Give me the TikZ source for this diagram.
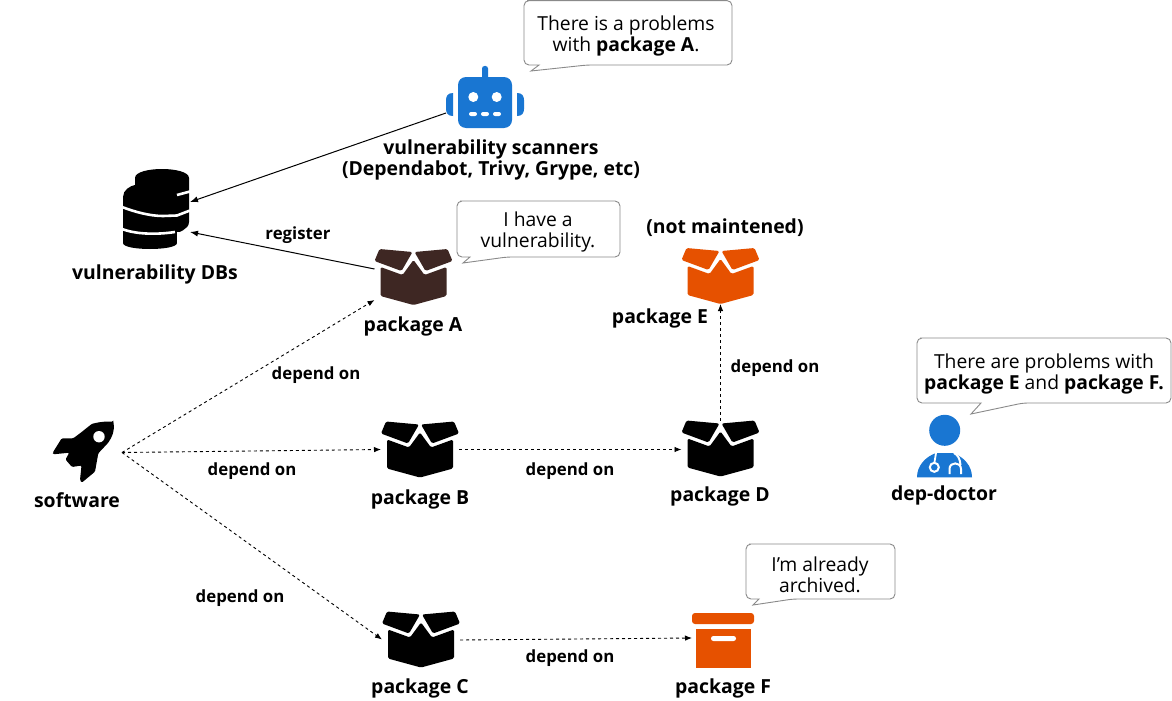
\documentclass[tikz,border=0pt]{standalone}
\usepackage{fontspec}
\setmainfont{Open Sans}
\usetikzlibrary{arrows.meta}
\definecolor{blueic}{HTML}{1976D2}
\definecolor{orangeic}{HTML}{E65100}
\definecolor{brownic}{HTML}{3E2723}
\definecolor{bubbleline}{HTML}{8A8A8A}
\newcommand{\bubblepath}[8]{%
  \draw[bubbleshape,rounded corners=5] (#1+8,#2) -- (#3,#2) -- (#3,#4) -- (#8,#4)
    [sharp corners] -- (#6,#7) -- (#5,#4)
    [rounded corners=5] -- (#1,#4) -- (#1,#2) -- cycle;}
\tikzset{
  x=1pt,y=-1pt,
  lbl/.style={font=\fontsize{19.4}{20.5}\selectfont\bfseries,inner sep=0,align=center},
  edgelbl/.style={font=\fontsize{16.8}{18}\selectfont\bfseries,inner sep=0},
  bubbletxt/.style={font=\fontsize{19.3}{21}\selectfont,inner sep=0,align=center},
  bubbleshape/.style={draw=bubbleline,line width=0.9pt,fill=white},
  iconbox/.style={inner sep=0,outer sep=0},
  solidarrow/.style={line width=1pt,-{Latex[length=8pt,width=6pt]}},
  dasharrow/.style={line width=0.9pt,dash pattern=on 3pt off 3pt,-{Latex[length=7pt,width=5.5pt]}},
  pics/pkg/.style={code={
    \fill[#1,rounded corners=1.5pt] (-34,-28) -- (-1,-25) -- (-12,-6) -- (-39,-16) -- cycle;
    \fill[#1,rounded corners=1.5pt] (34,-28) -- (1,-25) -- (12,-6) -- (39,-16) -- cycle;
    \fill[#1,rounded corners=1.5pt] (-33,-10) -- (-11,-2) -- (0,-17) -- (11,-2) -- (33,-10) -- (33,19) -- (0,28) -- (-33,19) -- cycle;
  }},
}
\begin{document}
\begin{tikzpicture}
\useasboundingbox (0,0) rectangle (1172,701);
\fill[white] (0,0) rectangle (1172,701);

% icon anchors
\node[iconbox,minimum width=62pt,minimum height=63pt,outer sep=7pt] (soft) at (84,452.5) {};
\node[iconbox,minimum width=66pt,minimum height=79pt,outer sep=1pt] (db) at (156,209.5) {};
\node[iconbox,minimum width=79pt,minimum height=63pt] (robot) at (485.5,97.5) {};
\node[iconbox,minimum width=78pt,minimum height=56pt] (pkgA) at (413.5,277) {};
\node[iconbox,minimum width=78pt,minimum height=56pt] (pkgB) at (420,449.5) {};
\node[iconbox,minimum width=78pt,minimum height=56pt] (pkgC) at (421,639.5) {};
\node[iconbox,minimum width=78pt,minimum height=56pt] (pkgD) at (720.5,448.5) {};
\node[iconbox,minimum width=78pt,minimum height=56pt] (pkgE) at (720.5,276) {};
\node[iconbox,minimum width=62pt,minimum height=56pt] (pkgF) at (723,640.5) {};
\node[iconbox,minimum width=55pt,minimum height=63pt] (doc) at (944.5,446) {};

% package icons
\pic at (pkgA) {pkg=brownic};
\pic at (pkgB) {pkg=black};
\pic at (pkgC) {pkg=black};
\pic at (pkgD) {pkg=black};
\pic at (pkgE) {pkg=orangeic};

% archive box
\fill[orangeic,rounded corners=3pt] (692,613) rectangle (754,624);
\fill[orangeic] (696,629) rectangle (751,668);
\fill[white,rounded corners=2.4pt] (711,636) rectangle (736,641);

% robot
\fill[blueic,rounded corners=8pt] (458,77) rectangle (512,128);
\fill[blueic,rounded corners=2.5pt] (482,66) rectangle (488,80);
\fill[blueic] (453,93) .. controls (448,93) and (446,96) .. (446,100) -- (446,109) .. controls (446,113) and (448,116) .. (453,116) -- cycle;
\fill[blueic] (517,93) .. controls (522,93) and (524,96) .. (524,100) -- (524,109) .. controls (524,113) and (522,116) .. (517,116) -- cycle;
\fill[white] (473.3,97) circle (5);
\fill[white] (496.7,97) circle (5);
\fill[white,rounded corners=2pt] (469,112) rectangle (477,116);
\fill[white,rounded corners=2pt] (481,112) rectangle (489,116);
\fill[white,rounded corners=2pt] (493,112) rectangle (501,116);

% database stack
\fill[black] (135,178) .. controls (135,166) and (189,166) .. (189,178) -- (189,222)
  .. controls (189,230) and (177,232) .. (177,234) -- (177,243)
  .. controls (177,251) and (123,251) .. (123,243) -- (123,197)
  .. controls (123,190) and (130,186) .. (135,185) -- cycle;
\draw[white,line width=2.6pt] (177,195) -- (190,191.5);
\draw[white,line width=2.6pt] (122,207) .. controls (135,212) and (150,216) .. (163,216) -- (177,215.5) -- (190,210.5);
\draw[white,line width=2.6pt] (122,229) .. controls (135,234) and (155,235) .. (175,232);
\fill[white] (177,232) rectangle (192,250);

% rocket
\fill[black,rounded corners=1.2pt] (113.3,421.7) .. controls (104,421) and (95,423) .. (91.7,424)
  -- (80,433.3) -- (73.3,438.3) -- (61.7,438.3) -- (52.7,452.7) -- (53.3,454.3) -- (69.3,452.7)
  -- (65.5,459.5) -- (72,467) -- (81.5,465.5) -- (80,480) -- (81.7,482.7)
  -- (95,471.7) -- (98.3,453.3) -- (108,443) .. controls (112,437) and (115,431) .. (113.3,421.7) -- cycle;
\fill[white] (99,436.7) circle (5.7);

% doctor
\fill[blueic] (944.7,430.3) circle (15.5);
\fill[blueic] (917,477.3) .. controls (917,466) and (925,457) .. (936,453) -- (953,453)
  .. controls (964,457) and (972,466) .. (972,477.3) -- cycle;
\draw[white,line width=1.8pt] (936,453) -- (934.5,462);
\draw[white,line width=2pt] (934.3,467.3) circle (4.5);
\draw[white,line width=2pt] (949.5,474) -- (949.5,469) .. controls (949.5,461.5) and (961,461.5) .. (961,469) -- (961,474);
\draw[white,line width=2pt] (954,453) .. controls (958,455) and (960,459) .. (960.5,465);

% connectors
\draw[solidarrow] ([yshift=-15.5pt]robot.west) -- ([yshift=7.5pt]db.east);
\draw[solidarrow] ([yshift=8pt]pkgA.west) -- ([yshift=-22.5pt]db.east);
\draw[dasharrow] (soft.east) -- ([yshift=5pt]pkgA.south west);
\draw[dasharrow] (soft.east) -- (pkgB.west);
\draw[dasharrow] (soft.east) -- (pkgC.west);
\draw[dasharrow] (pkgB.east) -- (pkgD.west |- pkgB.east);
\draw[dasharrow] ([yshift=-0.5pt]pkgC.east) -- ([yshift=2.5pt]pkgF.west);
\draw[dasharrow] (pkgD.north) -- (pkgE.south);

% labels
\node[lbl] (lblscan) at (491,160) {vulnerability scanners\\(Dependabot, Trivy, Grype, etc)};
\node[lbl] (lbldb) at (155,274) {vulnerability DBs};
\node[lbl] (lblA) at (413,326) {package A};
\node[lbl] (lblB) at (420,499) {package B};
\node[lbl] (lblC) at (420,688) {package C};
\node[lbl] (lblD) at (720,496) {package D};
\node[lbl] (lblE) at (660,318) {package E};
\node[lbl] (lblF) at (723,688) {package F};
\node[lbl] (lblnm) at (725,228) {(not maintened)};
\node[lbl] (lblsoft) at (77,500.5) {software};
\node[lbl] (lbldoc) at (944,495) {dep-doctor};

\node[edgelbl] (e1) at (298,235) {register};
\node[edgelbl] (e2) at (316,375) {depend on};
\node[edgelbl] (e3) at (252,471) {depend on};
\node[edgelbl] (e4) at (240,598) {depend on};
\node[edgelbl] (e5) at (570,471) {depend on};
\node[edgelbl] (e6) at (570,658) {depend on};
\node[edgelbl] (e7) at (775,368) {depend on};

% callouts
\bubblepath{524}{0.6}{732}{65}{539}{531}{71}{587}
\node[bubbletxt] (b1) at (626,36) {There is a problems\\with \textbf{package A}.};
\bubblepath{457}{201}{620}{257}{470}{463}{263}{507}
\node[bubbletxt] (b2) at (538,232) {I have a\\vulnerability.};
\bubblepath{917}{338}{1171}{403}{981}{971}{414}{1023}
\node[bubbletxt] (b3) at (1044,374) {There are problems with\\\textbf{package E} and \textbf{package F.}};
\bubblepath{746}{544}{895}{599}{759}{753}{605}{793}
\node[bubbletxt] (b4) at (820,574.5) {I'm already\\archived.};
\end{tikzpicture}
\end{document}
